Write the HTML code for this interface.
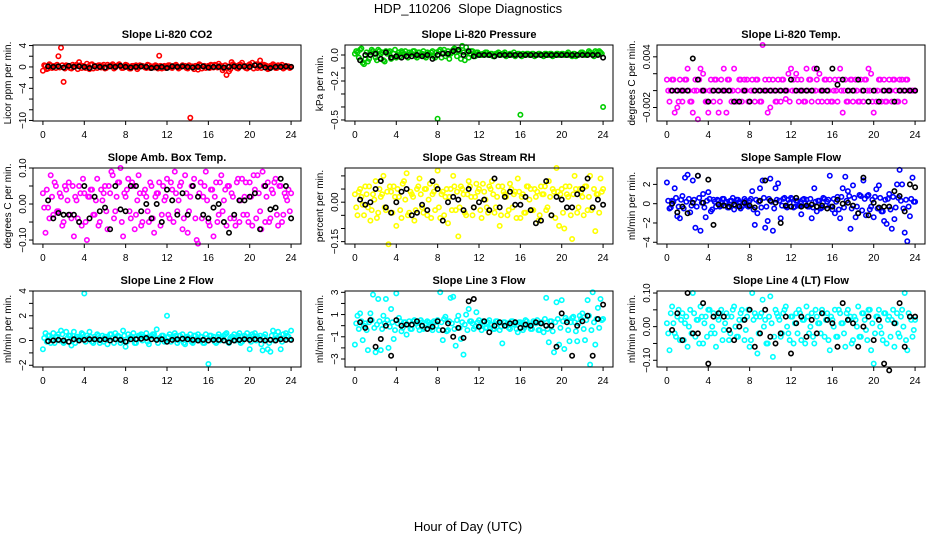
<!DOCTYPE html>
<html><head><meta charset="utf-8">
<style>
html,body{margin:0;padding:0;background:#fff;}
svg{display:block;font-family:"Liberation Sans",Arial,sans-serif;}
</style></head>
<body>
<svg id="chart" width="936" height="540" viewBox="0 0 936 540" xmlns="http://www.w3.org/2000/svg">
<rect x="0" y="0" width="936" height="540" fill="#fff"/>
<text x="468" y="13" text-anchor="middle" font-size="13" style="white-space:pre">HDP_110206  Slope Diagnostics</text>
<text x="468" y="531" text-anchor="middle" font-size="13">Hour of Day (UTC)</text>
<g id="panels"></g>
</svg>
<script>
const hoursC=[0,0.25,0.5,0.75,1,1.25,1.5,1.75,2,2.25,2.5,2.75,3,3.25,3.5,3.75,4,4.25,4.5,4.75,5,5.25,5.5,5.75,6,6.25,6.5,6.75,7,7.25,7.5,7.75,8,8.25,8.5,8.75,9,9.25,9.5,9.75,10,10.25,10.5,10.75,11,11.25,11.5,11.75,12,12.25,12.5,12.75,13,13.25,13.5,13.75,14,14.25,14.5,14.75,15,15.25,15.5,15.75,16,16.25,16.5,16.75,17,17.25,17.5,17.75,18,18.25,18.5,18.75,19,19.25,19.5,19.75,20,20.25,20.5,20.75,21,21.25,21.5,21.75,22,22.25,22.5,22.75,23,23.25,23.5,23.75,24];
const hoursC2=[0.125,0.375,0.625,0.875,1.125,1.375,1.625,1.875,2.125,2.375,2.625,2.875,3.125,3.375,3.625,3.875,4.125,4.375,4.625,4.875,5.125,5.375,5.625,5.875,6.125,6.375,6.625,6.875,7.125,7.375,7.625,7.875,8.125,8.375,8.625,8.875,9.125,9.375,9.625,9.875,10.125,10.375,10.625,10.875,11.125,11.375,11.625,11.875,12.125,12.375,12.625,12.875,13.125,13.375,13.625,13.875,14.125,14.375,14.625,14.875,15.125,15.375,15.625,15.875,16.125,16.375,16.625,16.875,17.125,17.375,17.625,17.875,18.125,18.375,18.625,18.875,19.125,19.375,19.625,19.875,20.125,20.375,20.625,20.875,21.125,21.375,21.625,21.875,22.125,22.375,22.625,22.875,23.125,23.375,23.625,23.875];
const hoursK=[0.5,1,1.5,2,2.5,3,3.5,4,4.5,5,5.5,6,6.5,7,7.5,8,8.5,9,9.5,10,10.5,11,11.5,12,12.5,13,13.5,14,14.5,15,15.5,16,16.5,17,17.5,18,18.5,19,19.5,20,20.5,21,21.5,22,22.5,23,23.5,24];
const xTicks=[0,4,8,12,16,20,24];

const p1A=[-0.7,0.2,-0.3,0.3,0.1,-0.2,2.0,3.6,-2.8,0.3,0.2,-0.3,0.1,0.4,0.9,-0.2,0.1,0.6,-0.4,0.5,0.2,-0.2,0.3,0.1,-0.3,0.4,0.2,0.5,-0.1,0.3,0.2,-0.2,0.4,0.1,-0.3,0.2,0.3,-0.1,0.2,0.1,-0.2,0.3,0.1,-0.1,0.2,2.1,-0.3,0.2,0.1,0.3,-0.2,0.2,0.1,-0.1,0.3,0.2,-0.3,-9.5,0.1,0.2,-0.5,0.3,0.1,-0.2,0.2,0.4,-0.1,0.3,0.6,0.2,-0.3,-1.5,-0.8,0.9,0.3,-0.2,0.4,0.8,0.2,-0.3,0.5,0.8,0.3,-0.2,1.2,0.4,0.3,-0.4,0.2,0.5,-0.2,0.3,0.1,-0.3,0.2,0.1,0.0];
const p1B=[0.3,-0.4,0.5,-0.2,0.2,0.4,-0.1,0.3,-0.3,0.2,-0.2,0.4,0.1,-0.4,0.3,0.2,-0.2,0.1,0.4,-0.3,0.2,0.3,-0.1,0.4,-0.2,0.1,0.3,-0.3,0.2,0.5,-0.2,0.1,0.3,-0.3,0.2,0.1,-0.4,0.3,0.2,-0.1,0.4,-0.2,0.1,0.3,-0.3,0.2,0.1,-0.2,0.3,-0.1,0.2,0.4,-0.3,0.1,0.2,-0.2,0.3,0.1,-0.4,0.2,0.5,-0.3,0.2,0.1,-0.2,0.3,0.4,-0.1,0.2,-0.6,0.3,0.1,-0.4,0.5,0.2,-0.3,0.4,0.1,-0.2,0.3,0.2,-0.3,0.5,0.1,-0.2,0.4,0.2,-0.3,0.1,0.3,-0.2,0.2,0.4,-0.1,0.1,-0.2];
const p1K=[0.1,0.0,0.1,-0.1,0.2,0.0,0.1,0.0,-0.2,0.1,0.0,-0.1,0.1,0.0,0.2,0.0,-0.1,0.0,0.1,0.0,-0.2,-0.1,0.0,-0.2,0.1,0.0,0.1,0.0,-0.1,0.0,0.1,-0.1,0.0,0.0,-0.1,0.0,0.1,0.0,0.1,0.0,0.3,0.2,-0.1,-0.2,0.0,0.0,0.1,0.0];

const p2A=[0.01,0.02,0.04,-0.06,-0.03,-0.05,0.02,0.03,-0.02,0.04,0.01,-0.04,0.03,0.02,-0.03,0.01,-0.02,0.02,0.03,0.01,-0.01,0.02,0.01,0.03,-0.02,0.02,0.01,-0.01,0.02,0.00,0.03,-0.02,-0.49,0.04,0.02,-0.01,0.03,0.01,0.04,0.02,0.03,-0.03,0.02,0.06,-0.02,0.03,0.01,0.02,0.01,0.00,0.01,0.02,0.00,0.01,-0.01,0.01,0.00,0.01,0.02,0.00,0.01,0.00,-0.01,0.01,-0.46,0.01,0.00,0.01,0.00,0.01,0.00,0.01,0.00,-0.01,0.01,0.00,0.01,0.00,0.01,0.00,0.01,0.00,0.01,0.00,-0.01,0.01,0.00,0.01,0.02,0.00,0.01,0.02,0.00,0.03,0.01,0.02,-0.40];
const p2B=[0.03,-0.02,0.05,-0.07,0.02,-0.03,0.04,0.01,-0.04,0.03,0.02,-0.05,0.01,0.03,-0.02,0.04,0.00,-0.01,0.02,0.03,-0.02,0.01,0.03,-0.01,0.02,0.00,0.03,-0.02,0.01,0.02,-0.01,0.02,0.03,-0.02,0.04,0.01,-0.03,0.02,0.05,-0.01,0.03,0.07,-0.04,0.02,0.01,0.03,-0.01,0.02,0.00,0.01,0.02,0.00,0.01,-0.01,0.01,0.02,0.00,0.01,-0.01,0.00,0.01,0.02,0.00,0.01,-0.01,0.00,0.01,0.00,0.01,-0.01,0.00,0.01,0.00,0.01,0.00,0.01,-0.01,0.00,0.01,0.00,0.01,0.00,0.02,0.00,0.01,-0.01,0.00,0.02,0.01,0.00,0.03,0.01,-0.01,0.02,0.03,0.01];
const p2K=[-0.04,0.0,0.0,0.01,-0.03,0.02,-0.02,-0.01,-0.02,-0.01,-0.01,0.0,-0.01,0.0,-0.03,0.0,0.01,0.01,0.03,0.04,0.0,0.03,-0.01,0.0,0.0,0.0,-0.01,0.0,0.0,0.0,0.0,0.0,0.0,0.0,0.0,0.0,0.0,0.0,0.0,0.0,0.0,0.0,0.0,0.0,0.0,0.0,0.0,-0.02];

const p3A=[0.0013,-0.0013,0.0013,-0.0026,-0.0020,0.0013,-0.0013,0.0013,0.0026,-0.0013,-0.0026,0.0013,-0.0034,0.0026,0.0020,-0.0013,-0.0026,0.0013,-0.0013,0.0013,-0.0026,0.0013,0.0026,-0.0026,0.0013,-0.0013,0.0026,-0.0013,0.0013,-0.0013,0.0013,0.0013,-0.0013,0.0013,-0.0013,0.0013,-0.0013,0.0054,0.0013,-0.0026,-0.0020,0.0013,-0.0013,0.0013,-0.0013,0.0013,-0.0010,0.0020,0.0026,0.0013,0.0020,-0.0013,0.0013,-0.0013,0.0026,0.0013,-0.0013,0.0026,0.0013,0.0020,-0.0013,0.0013,-0.0013,0.0013,-0.0013,0.0013,-0.0013,0.0026,-0.0026,0.0013,-0.0013,0.0013,-0.0013,0.0013,-0.0013,0.0013,-0.0013,0.0013,0.0026,0.0020,-0.0026,-0.0013,0.0013,-0.0013,0.0013,-0.0013,0.0013,-0.0013,0.0013,-0.0013,0.0013,0.0013,-0.0013,0.0013,0,0,0];
const p3B=[0,0,0.0013,0,-0.0013,0,0,0.0013,0,-0.0013,0,0,0.0013,0,0,-0.0013,0,0,0.0013,0,-0.0013,0,0,0.0013,0,0,-0.0013,0,0.0013,0,0,-0.0013,0,0,0.0013,0,-0.0013,0,0,0.0013,0,0,-0.0013,0,0.0013,0,0,-0.0013,0,0,0.0013,0,0,-0.0013,0,0.0013,0,0,-0.0013,0,0,0.0013,0,-0.0013,0,0,0.0013,0,0,-0.0013,0,0.0013,0,0,-0.0013,0,0.0013,0,0,-0.0013,0,0,0.0013,0,-0.0013,0,0,0.0013,0,-0.0013,0,0,0.0013,0,0,0];
const p3K=[0,0,0,0,0.0038,0.0013,0,-0.0013,0,0,0,0,-0.0013,-0.0013,0,-0.0013,0,0,0,0,0,0,0,0.0013,0,0,0,0,0.0026,0,0,0.0026,0.0007,0.0013,0,0,0.0013,0,-0.0013,0,-0.0013,0,0,-0.0013,0,0,0,0];

const p4A=[0.03,-0.08,-0.01,0.08,-0.03,0.05,-0.02,0.02,-0.05,0.04,0.06,-0.04,-0.09,0.01,0.05,-0.06,0.03,-0.10,0.02,0.04,-0.03,0.07,-0.05,0.01,0.05,-0.07,0.03,0.08,-0.02,0.06,0.10,-0.09,0.02,0.07,-0.04,0.05,-0.03,0.08,-0.06,0.03,0.02,-0.05,0.05,-0.08,0.03,0.06,-0.03,0.01,0.07,-0.04,0.04,0.09,-0.02,0.05,-0.07,0.08,-0.08,0.02,0.05,-0.04,-0.11,0.06,0.02,0.09,-0.05,0.04,-0.09,0.06,-0.03,0.08,0.01,-0.06,0.05,0.03,-0.04,0.06,-0.05,0.07,0.02,-0.03,0.06,-0.06,0.04,0.08,-0.02,0.09,-0.05,0.06,-0.04,0.03,0.07,-0.06,0.05,-0.03,0.02,0.04,0.03];
const p4B=[-0.01,0.04,-0.04,0.02,0.06,-0.02,0.03,-0.06,0.05,0.01,-0.03,0.05,0.02,-0.04,0.03,0.07,-0.05,0.02,0.04,-0.03,0.01,-0.06,0.04,0.03,-0.02,0.05,0.09,-0.04,0.02,0.06,-0.05,0.03,0.04,-0.02,0.06,-0.07,0.01,0.03,-0.05,0.04,-0.02,0.06,-0.04,0.02,0.03,-0.06,0.05,0.02,-0.03,0.06,-0.05,0.03,0.01,0.06,-0.04,0.03,-0.02,0.05,0.07,-0.10,0.03,-0.04,0.05,0.01,-0.06,0.04,0.02,-0.05,0.06,-0.02,0.04,0.05,-0.04,0.02,-0.06,0.07,0.01,-0.03,0.06,-0.05,0.02,0.08,-0.04,0.03,-0.07,0.05,0.02,-0.05,0.04,0.06,-0.03,0.05,-0.05,0.03,0.01,-0.02];
const p4K=[0.01,-0.04,-0.025,-0.03,-0.03,-0.03,-0.05,0.05,-0.04,0.02,-0.02,-0.01,-0.07,0.05,-0.015,-0.02,0.05,0.05,-0.02,0.00,-0.04,0.00,-0.05,0.04,0.01,-0.03,0.03,-0.03,0.05,0.02,-0.03,-0.04,-0.01,0.00,-0.05,-0.08,-0.03,0.01,0.01,0.02,0.03,-0.07,0.05,-0.015,-0.01,0.07,0.05,-0.04];

const p5A=[0.03,-0.05,0.05,-0.01,0.06,-0.02,-0.07,0.03,0.08,-0.04,0.02,0.10,-0.03,-0.16,0.04,0.06,-0.09,0.02,-0.06,0.08,0.11,-0.04,0.03,-0.07,0.05,0.09,-0.02,0.05,-0.05,0.07,0.03,-0.03,0.12,-0.06,0.04,0.02,-0.08,0.05,0.10,-0.03,-0.13,0.06,0.03,-0.05,0.08,0.02,-0.02,0.07,0.05,-0.06,0.04,-0.02,0.06,0.08,-0.04,0.02,-0.09,0.06,0.03,-0.05,0.07,-0.02,0.04,0.09,-0.06,0.03,-0.04,0.06,0.05,-0.03,0.02,-0.07,0.06,0.03,-0.03,0.08,-0.05,0.04,0.13,-0.09,0.05,-0.10,0.03,0.06,-0.14,0.10,-0.04,0.05,0.02,0.06,-0.03,0.10,-0.02,-0.11,0.03,0.09,0.05];
const p5B=[-0.02,0.04,0.02,-0.05,0.03,0.06,-0.03,0.01,-0.06,0.05,0.03,-0.02,0.04,0.06,-0.04,0.02,0.05,-0.03,0.07,0.01,-0.05,0.04,0.02,-0.03,0.06,0.03,-0.04,0.05,0.01,-0.06,0.04,0.06,-0.02,0.03,-0.05,0.05,0.02,-0.03,0.06,0.04,-0.02,0.05,-0.04,0.03,0.06,-0.05,0.02,0.04,-0.03,0.07,0.01,-0.04,0.05,0.03,-0.02,0.06,-0.05,0.04,0.02,-0.03,0.05,0.03,-0.06,0.04,0.02,-0.04,0.06,0.01,-0.03,0.05,0.04,-0.05,0.03,0.06,-0.02,0.02,0.05,-0.06,0.04,0.03,-0.04,0.06,0.02,-0.05,0.03,0.05,-0.02,0.04,-0.05,0.06,0.02,-0.03,0.05,0.03,-0.04,0.04];
const p5K=[0.01,-0.01,0.00,0.05,0.08,-0.02,-0.04,0.00,0.04,0.05,-0.05,-0.04,-0.01,-0.03,0.08,0.05,-0.07,0.00,0.02,0.01,-0.03,0.05,-0.02,0.00,0.01,-0.03,0.09,-0.02,0.02,0.04,-0.01,-0.01,0.02,-0.03,-0.08,-0.07,0.08,-0.05,0.02,0.01,-0.02,-0.02,0.03,0.05,0.09,-0.02,0.01,-0.01];

const p6A=[2.2,-0.5,0.3,1.6,-1.3,-1.5,0.8,2.7,3.0,-0.9,2.4,-2.5,2.9,-2.8,1.0,-1.4,1.2,-0.8,0.4,-0.3,0.3,-0.2,0.5,0.2,-0.4,0.3,-0.6,0.4,0.2,-0.3,0.5,-0.2,0.3,1.3,-2.2,-1.0,1.6,2.4,-2.5,-1.8,2.6,-2.8,1.6,2.1,-1.5,0.5,-0.3,0.4,0.6,-0.4,0.3,-0.2,-1.1,0.5,0.4,-0.3,-1.5,1.6,-0.8,0.3,-0.4,0.5,0.2,2.9,-0.6,-1.0,0.7,-1.5,1.6,2.8,1.3,-2.6,1.9,-1.4,-1.0,0.8,2.4,-1.2,0.9,-0.3,-1.4,1.5,1.9,-0.8,-1.8,-2.1,1.0,-2.6,-1.6,2.0,3.5,2.0,-3.0,-3.9,-1.3,2.7,0.2];
const p6B=[0.3,-0.4,0.2,0.6,-0.3,0.4,-0.5,0.2,0.5,-0.2,0.4,-0.3,0.6,0.1,-0.4,0.3,0.5,-0.6,0.2,0.4,-0.3,0.5,0.1,-0.4,0.3,0.6,-0.2,0.4,-0.5,0.2,0.3,-0.3,0.5,-0.6,0.4,0.2,-0.4,0.6,-0.3,0.5,0.2,-0.5,0.4,0.3,-0.2,0.6,-0.4,0.1,0.5,-0.3,0.3,-0.2,0.4,0.1,-0.3,0.5,-0.4,0.2,0.3,-0.5,0.6,-0.2,0.4,-0.3,0.5,0.2,-0.6,0.7,-0.4,0.3,0.8,-0.5,0.6,-0.3,0.9,-0.7,0.5,0.8,-0.6,0.4,0.7,-0.5,0.6,-0.8,0.4,0.5,-0.6,0.7,-0.4,0.6,0.3,-0.5,0.4,-0.3,0.5,0.2];
const p6K=[0.0,-0.9,-0.3,-1.0,0.1,2.9,0.1,2.5,-2.2,-0.1,-0.2,-0.3,-0.1,-0.3,0.1,-0.2,-0.4,0.3,2.4,0.3,0.1,-2.0,-0.2,-0.3,0.6,-0.3,-0.2,-0.1,-0.3,-0.2,-0.5,-0.3,0.4,0.0,0.1,-0.2,-1.0,2.7,-1.2,0.1,-0.4,-0.3,-0.3,1.3,0.8,-0.8,2.0,1.7];

const p7A=[-0.7,0.6,0.4,-0.2,0.6,0.3,0.5,0.8,-0.2,0.7,0.4,-0.4,0.7,0.3,0.2,0.6,3.8,0.4,0.7,-0.1,0.3,0.5,-0.2,0.4,0.3,-0.3,0.5,0.2,0.6,0.4,-0.2,0.8,-0.5,0.5,0.3,0.6,-0.2,0.4,0.5,0.3,0.6,-0.3,0.4,0.5,0.9,0.2,0.4,-0.1,2.0,0.5,0.3,0.6,-0.2,0.4,0.5,-0.3,0.3,0.5,-0.2,0.4,0.5,0.3,-0.2,0.5,-1.9,0.4,0.3,-0.2,0.5,0.3,0.4,0.6,-0.2,0.3,0.5,0.2,0.6,-0.1,0.4,0.6,-0.7,0.5,0.6,0.3,0.4,-0.8,0.5,-0.7,-0.9,0.8,0.4,0.7,-0.7,0.5,0.6,0.3,0.8];
const p7B=[0.2,-0.1,0.4,0.1,-0.2,0.3,0.0,0.5,-0.1,0.2,0.4,0.0,-0.2,0.3,0.1,0.5,-0.1,0.2,0.3,-0.2,0.1,0.4,0.0,-0.1,0.3,0.2,0.5,-0.2,0.1,0.3,0.0,0.4,-0.1,0.2,0.3,-0.2,0.1,0.4,0.0,0.2,-0.1,0.3,0.5,0.1,-0.2,0.2,0.4,0.0,0.3,-0.1,0.2,0.4,0.0,0.1,-0.2,0.3,0.2,-0.1,0.4,0.1,0.0,0.3,-0.2,0.2,0.4,0.1,-0.1,0.3,0.0,0.2,0.5,-0.1,0.2,0.3,0.0,0.4,-0.2,0.1,0.3,0.2,-0.1,0.4,0.0,0.2,-0.3,0.3,0.1,-0.2,0.4,0.0,0.2,0.3,-0.1,0.2,0.4,0.1];
const p7K=[-0.05,0.0,0.05,0.0,-0.1,0.1,0.0,0.05,0.1,0.1,0.05,0.1,0.0,0.1,0.05,-0.1,0.1,0.1,0.15,0.2,0.1,0.05,0.1,-0.1,0.05,0.1,0.15,0.1,0.05,0.0,0.05,0.0,0.05,0.05,0.0,-0.15,0.0,0.05,0.1,0.05,0.1,0.05,0.0,0.05,0.0,0.1,0.05,0.05];

const p8A=[-1.7,0.9,1.1,-1.3,0.2,-2.2,1.1,2.8,-2.4,2.4,-2.2,0.9,2.4,-2.0,1.5,-1.2,2.9,0.7,-0.5,0.3,-0.8,0.4,-0.3,0.5,0.2,-0.4,0.3,-0.2,0.4,0.1,-0.4,0.3,0.5,3.0,-1.3,0.8,-0.4,2.5,2.6,-1.8,0.9,-1.2,-2.6,1.0,1.5,0.4,-0.3,1.2,0.5,-0.4,0.3,-0.2,0.5,0.1,-0.3,0.4,-0.4,-1.6,0.3,0.2,-0.3,0.4,0.2,-0.6,0.3,-0.4,0.5,0.1,-0.3,0.4,0.2,-0.4,0.3,-0.6,2.5,-1.5,0.4,-2.4,2.1,-1.7,2.3,-2.1,0.5,-1.4,0.7,0.3,-1.4,0.9,1.1,-1.3,2.3,-3.5,3.0,-1.7,1.6,2.4,0.6];
const p8B=[0.2,-0.3,0.4,0.0,-0.4,0.3,0.5,-0.2,0.1,0.4,-0.3,0.2,0.5,-0.1,0.3,-0.4,0.2,0.4,-0.2,0.3,0.1,-0.3,0.4,0.2,-0.1,0.5,-0.3,0.2,0.3,-0.2,0.4,0.0,-0.4,0.3,0.6,-0.5,0.4,0.2,-0.3,0.5,-0.2,0.3,0.1,-0.4,0.4,0.2,-0.1,0.3,0.0,0.4,-0.2,0.3,0.1,-0.3,0.4,0.2,-0.1,0.3,0.0,-0.2,0.4,0.1,-0.3,0.3,0.2,-0.2,0.4,0.0,-0.3,0.3,0.5,-0.4,0.2,0.6,-0.3,0.4,-0.5,0.3,0.6,-0.2,0.4,0.7,-0.4,0.3,0.8,-0.5,0.2,0.6,-0.3,0.5,0.9,-0.4,0.3,0.6,-0.2,0.5];
const p8K=[0.3,-0.2,0.5,-1.9,-1.2,0.0,-2.7,0.5,0.0,0.1,0.1,0.4,0.0,-0.3,-0.1,0.4,-0.4,0.2,-1.0,-0.2,-1.1,2.2,2.4,-0.1,0.4,-0.6,0.0,0.3,0.0,0.2,0.3,-0.2,0.1,0.0,0.3,0.2,0.0,0.0,-1.9,1.1,0.3,-2.7,0.0,0.4,0.9,-2.7,0.6,1.9];

const p9A=[0.01,-0.07,0.06,-0.02,0.03,-0.04,0.04,0.01,-0.06,0.05,0.10,-0.03,0.02,0.06,-0.05,0.03,0.05,-0.02,0.04,-0.06,0.02,0.05,-0.01,0.04,-0.04,0.03,0.06,-0.03,0.02,0.05,-0.04,0.03,-0.06,0.10,0.04,-0.08,0.03,0.08,0.02,-0.05,0.09,-0.09,0.05,0.03,-0.03,0.04,0.06,-0.02,0.03,-0.05,0.04,0.05,-0.04,0.02,0.06,-0.02,0.04,-0.05,0.03,0.01,0.05,-0.03,0.04,-0.07,0.02,0.05,-0.03,0.04,0.01,-0.06,0.05,0.03,-0.04,0.02,0.06,-0.03,0.04,-0.01,0.05,-0.07,-0.11,0.03,0.05,-0.02,0.04,-0.05,0.03,0.02,-0.06,0.04,-0.03,0.05,0.10,-0.07,0.03,-0.03,0.02];
const p9B=[-0.02,0.04,0.01,-0.03,0.05,0.02,-0.04,0.03,0.00,-0.02,0.04,0.02,-0.05,0.03,0.01,-0.03,0.05,0.00,-0.02,0.03,0.04,-0.04,0.01,0.03,-0.02,0.05,0.00,-0.03,0.04,0.02,-0.01,0.05,-0.04,0.02,0.03,-0.02,0.04,0.00,-0.05,0.03,0.01,-0.03,0.04,0.02,-0.02,0.05,0.00,-0.04,0.03,0.01,-0.02,0.04,0.02,-0.05,0.03,0.00,-0.03,0.05,0.01,-0.02,0.04,0.02,-0.04,0.03,0.00,-0.03,0.05,0.01,-0.02,0.04,0.02,-0.05,0.03,0.00,-0.03,0.04,0.02,-0.04,0.05,0.01,-0.02,0.03,0.00,-0.04,0.04,0.02,-0.03,0.05,0.01,-0.02,0.03,0.00,-0.04,0.04,0.02,-0.01];
const p9K=[-0.01,0.04,-0.04,0.10,-0.02,-0.02,0.07,-0.11,0.03,0.04,0.03,-0.01,-0.04,0.00,0.02,0.05,-0.06,-0.02,0.05,-0.03,-0.05,-0.02,0.03,-0.08,0.01,0.03,-0.03,0.02,-0.02,0.04,0.02,0.01,-0.06,0.07,0.02,0.01,-0.06,0.00,0.03,-0.04,0.02,-0.11,-0.13,0.01,0.07,-0.06,0.03,0.03];

const p1Ticks=[4,2,0,-2,-4,-6,-8,-10], p1Labels=["4","","0","","−4","","","−10"];
const p2Ticks=[0,-0.1,-0.2,-0.3,-0.4,-0.5], p2Labels=["0.0","","−0.2","","","−0.5"];
const p3Ticks=[0.004,0.002,0,-0.002], p3Labels=["0.004","","","−0.002"];
const p4Ticks=[0.1,0.05,0,-0.05,-0.1], p4Labels=["0.10","","0.00","","−0.10"];
const p5Ticks=[0.1,0.05,0,-0.05,-0.1,-0.15], p5Labels=["","","0.00","","","−0.15"];
const p6Ticks=[2,0,-2,-4], p6Labels=["2","0","−2","−4"];
const p7Ticks=[4,3,2,1,0,-1,-2], p7Labels=["4","","2","","0","","−2"];
const p8Ticks=[3,2,1,0,-1,-2,-3], p8Labels=["3","","1","","−1","","−3"];
const p9Ticks=[0.1,0.05,0,-0.05,-0.1], p9Labels=["0.10","","0.00","","−0.10"];

const panels=[
 {name:"co2",title:"Slope Li-820 CO2",ylab:"Licor ppm per min.",lo:-10.1,hi:4.1,col:"#ff0000",A:p1A,B:p1B,K:p1K,ticks:p1Ticks,labels:p1Labels},
 {name:"pressure",title:"Slope Li-820 Pressure",ylab:"kPa per min.",lo:-0.508,hi:0.077,col:"#00cd00",A:p2A,B:p2B,K:p2K,ticks:p2Ticks,labels:p2Labels},
 {name:"li820-temp",title:"Slope Li-820 Temp.",ylab:"degrees C per min.",lo:-0.0036,hi:0.0054,col:"#ff00ff",A:p3A,B:p3B,K:p3K,ticks:p3Ticks,labels:p3Labels},
 {name:"amb-box-temp",title:"Slope Amb. Box Temp.",ylab:"degrees C per min.",lo:-0.111,hi:0.1,col:"#ff00ff",A:p4A,B:p4B,K:p4K,ticks:p4Ticks,labels:p4Labels},
 {name:"gas-stream-rh",title:"Slope Gas Stream RH",ylab:"percent per min.",lo:-0.159,hi:0.13,col:"#ffff00",A:p5A,B:p5B,K:p5K,ticks:p5Ticks,labels:p5Labels},
 {name:"sample-flow",title:"Slope Sample Flow",ylab:"ml/min per min.",lo:-4.18,hi:3.7,col:"#0000ff",A:p6A,B:p6B,K:p6K,ticks:p6Ticks,labels:p6Labels},
 {name:"line2-flow",title:"Slope Line 2 Flow",ylab:"ml/min per min.",lo:-2.14,hi:4.0,col:"#00ffff",A:p7A,B:p7B,K:p7K,ticks:p7Ticks,labels:p7Labels},
 {name:"line3-flow",title:"Slope Line 3 Flow",ylab:"ml/min per min.",lo:-3.72,hi:3.12,col:"#00ffff",A:p8A,B:p8B,K:p8K,ticks:p8Ticks,labels:p8Labels},
 {name:"line4-flow",title:"Slope Line 4 (LT) Flow",ylab:"ml/min per min.",lo:-0.12,hi:0.106,col:"#00ffff",A:p9A,B:p9B,K:p9K,ticks:p9Ticks,labels:p9Labels}
];

const NS="http://www.w3.org/2000/svg";
const colLeft=[33,345,657], rowTop=[45,168,291], boxW=268, boxH=76;
const root=document.getElementById("panels");
function mk(tag,attrs,parent){const e=document.createElementNS(NS,tag);for(const k in attrs)e.setAttribute(k,attrs[k]);parent.appendChild(e);return e;}

panels.forEach((p,pi)=>{
  const L=colLeft[pi%3], T=rowTop[Math.floor(pi/3)];
  const xs=h=>L+(h+0.96)/25.92*boxW;
  const ys=v=>T+(p.hi-v)/(p.hi-p.lo)*boxH;
  const g=mk("g",{},root);
  
  
  const t=mk("text",{x:L+boxW/2,y:T-7,"text-anchor":"middle","font-size":"11","font-weight":"bold"},g);
  t.textContent=p.title;
  
  
  const yl=mk("text",{x:0,y:0,transform:`translate(${L-22},${T+boxH/2}) rotate(-90)`,"text-anchor":"middle","font-size":"10"},g);
  yl.textContent=p.ylab;
  
  
  const pts=mk("g",{fill:"none","stroke-width":"1.6"},g);
  
  
  function series(hs,vals,col,nm){
    const n=Math.min(hs.length,vals.length);
    for(let i=0;i<n;i++){
      const c=mk("circle",{cx:xs(hs[i]).toFixed(1),cy:ys(vals[i]).toFixed(1),r:"2.2",stroke:col},pts);
      
      
    }
  }
  series(hoursC,p.A,p.col,'slope-point');
  series(hoursC2,p.B,p.col,'slope-point');
  series(hoursK,p.K,"#000",'mean-point');
  const box=mk("rect",{x:L,y:T,width:boxW,height:boxH,fill:"none",stroke:"#000","stroke-width":"1"},g);
  
  
  xTicks.forEach(h=>{
    const x=xs(h);
    const tk=mk("line",{x1:x,x2:x,y1:T+boxH,y2:T+boxH+4,stroke:"#000"},g);
    
    
    const lb=mk("text",{x:x,y:T+boxH+17,"text-anchor":"middle","font-size":"10"},g);
    lb.textContent=String(h);
    
    
  });
  p.ticks.forEach((v,i)=>{
    const y=ys(v);
    const tk=mk("line",{x1:L-4,x2:L,y1:y,y2:y,stroke:"#000"},g);
    
    
    if(p.labels[i]){
      const lb=mk("text",{x:0,y:0,transform:`translate(${L-7},${y}) rotate(-90)`,"text-anchor":"middle","font-size":"10"},g);
      lb.textContent=p.labels[i];
      
      
    }
  });
});
</script>
</body></html>
